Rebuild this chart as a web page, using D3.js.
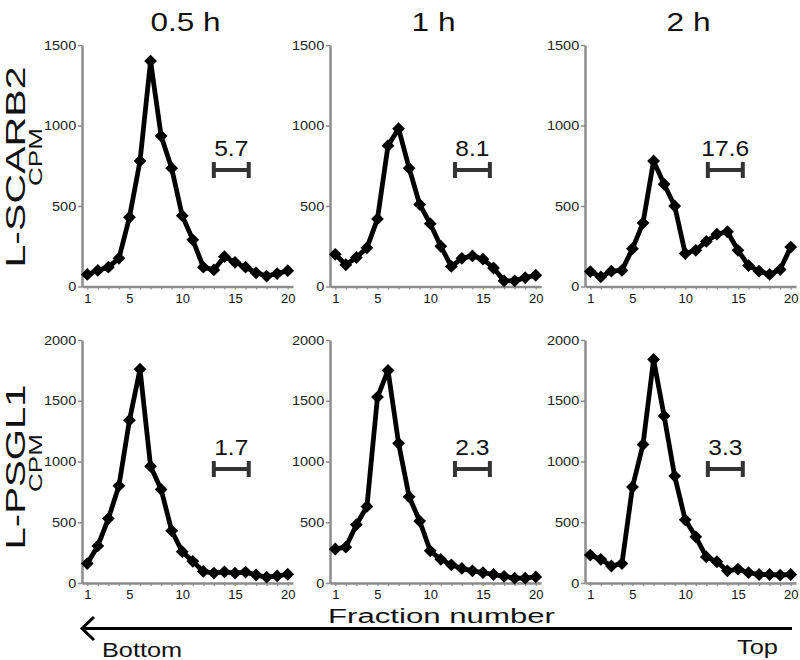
<!DOCTYPE html>
<html>
<head>
<meta charset="utf-8">
<script src="https://cdn.jsdelivr.net/npm/d3@7"></script>
<style>
  html, body { margin: 0; padding: 0; background: #fff; }
  svg { display: block; font-family: Arial, "Liberation Sans", Helvetica, sans-serif; }
  svg text { font-family: Arial, "Liberation Sans", Helvetica, sans-serif; }
</style>
</head>
<body>
<svg id="chart" width="800" height="660"></svg>
<script>
// ---------------- DATA ----------------
const fractions = [1,2,3,4,5,6,7,8,9,10,11,12,13,14,15,16,17,18,19,20];
const xTickLabels = [1, 5, 10, 15, 20];
const timepoints = ["0.5 h", "1 h", "2 h"];
const rowLabels = ["L-SCARB2", "L-PSGL1"];
const yUnitLabel = "CPM";
const xTitle = "Fraction number";
const arrowLeftLabel = "Bottom";
const arrowRightLabel = "Top";

const yTicksScarb2 = [0, 500, 1000, 1500];
const yTicksPsgl1 = [0, 500, 1000, 1500, 2000];

// L-SCARB2 CPM per fraction
const scarb2_05h = [75, 100, 120, 175, 430, 780, 1400, 935, 735, 440, 290, 120, 103, 185, 150, 120, 85, 65, 80, 98];
const scarb2_1h  = [200, 135, 180, 240, 420, 875, 980, 735, 510, 390, 250, 125, 175, 190, 170, 115, 35, 35, 55, 70];
const scarb2_2h  = [93, 60, 95, 100, 235, 395, 780, 635, 500, 205, 225, 280, 325, 340, 225, 130, 95, 75, 105, 245];
// L-PSGL1 CPM per fraction
const psgl1_05h  = [160, 305, 530, 800, 1340, 1760, 960, 770, 430, 258, 178, 95, 82, 92, 82, 90, 66, 48, 58, 72];
const psgl1_1h   = [280, 295, 480, 630, 1530, 1750, 1150, 710, 510, 265, 195, 150, 120, 100, 85, 70, 55, 40, 40, 50];
const psgl1_2h   = [230, 195, 140, 160, 790, 1140, 1840, 1375, 880, 520, 380, 215, 175, 100, 115, 85, 70, 70, 65, 70];

// annotation values (numbers above the scale bars)
const annotScarb2 = ["5.7", "8.1", "17.6"];
const annotPsgl1  = ["1.7", "2.3", "3.3"];

// ---------------- LAYOUT ----------------
const FONT = "Arial, 'Liberation Sans', Helvetica, sans-serif";
const svg = d3.select("#chart");
const panelLefts = [82, 330, 585];
const panelWidth = 211;
const rows = [
  { label: rowLabels[0], top: 45, bottom: 286.5, yMax: 1500, ticks: yTicksScarb2,
    series: [scarb2_05h, scarb2_1h, scarb2_2h], annot: annotScarb2,
    labelCenter: 167, labelLen: 201, cpmCenter: 157, barY: 170 },
  { label: rowLabels[1], top: 340, bottom: 583, yMax: 2000, ticks: yTicksPsgl1,
    series: [psgl1_05h, psgl1_1h, psgl1_2h], annot: annotPsgl1,
    labelCenter: 467, labelLen: 165, cpmCenter: 463, barY: 469 }
];
const barStart = [12.9, 12.25, 12.05];
const barLen = 3.5;
const axisColor = "#8c8c8c";

// Column titles
timepoints.forEach((t, i) => {
  svg.append("text")
    .attr("x", panelLefts[i] + panelWidth / 2 - 2)
    .attr("y", 31)
    .attr("text-anchor", "middle")
    .attr("font-family", FONT)
    .attr("font-size", 26)
    .attr("fill", "#111")
    .attr("textLength", t.length > 3 ? 70 : 44)
    .attr("lengthAdjust", "spacingAndGlyphs")
    .text(t);
});

const diamond = "M0,-6.4L6.4,0L0,6.4L-6.4,0Z";

rows.forEach((row, r) => {
  // Row label (rotated)
  svg.append("text")
    .attr("transform", `translate(24.5,${row.labelCenter}) rotate(-90)`)
    .attr("text-anchor", "middle")
    .attr("font-family", FONT)
    .attr("font-size", 28)
    .attr("fill", "#111")
    .attr("textLength", row.labelLen)
    .attr("lengthAdjust", "spacingAndGlyphs")
    .text(row.label);
  svg.append("text")
    .attr("transform", `translate(42,${row.cpmCenter}) rotate(-90)`)
    .attr("text-anchor", "middle")
    .attr("font-family", FONT)
    .attr("font-size", 17.5)
    .attr("fill", "#111")
    .attr("textLength", 58)
    .attr("lengthAdjust", "spacingAndGlyphs")
    .text(yUnitLabel);

  row.series.forEach((vals, c) => {
    const x0 = panelLefts[c];
    const x = d3.scaleLinear().domain([0.5, 20.5]).range([x0, x0 + panelWidth]);
    const y = d3.scaleLinear().domain([0, row.yMax]).range([row.bottom, row.top]);
    const g = svg.append("g");

    // Y axis
    const ya = g.append("g")
      .attr("transform", `translate(${x0},0)`)
      .call(d3.axisLeft(y).tickValues(row.ticks).tickSize(4).tickSizeOuter(0)
            .tickPadding(0).tickFormat(d => d));
    ya.attr("font-family", FONT);
    ya.select(".domain").attr("stroke", axisColor).attr("stroke-width", 2.5);
    ya.selectAll(".tick line").attr("stroke", axisColor).attr("stroke-width", 1.5);
    ya.selectAll(".tick text")
      .attr("font-size", 12.5)
      .attr("fill", "#222")
      .attr("transform", "scale(1.16,1)")
      .attr("x", -5);

    // X axis
    const xa = g.append("g")
      .attr("transform", `translate(0,${row.bottom})`)
      .call(d3.axisBottom(x).tickValues(fractions).tickSize(3).tickSizeOuter(0)
            .tickPadding(4).tickFormat(d => xTickLabels.includes(d) ? d : ""));
    xa.attr("font-family", FONT);
    xa.select(".domain").attr("stroke", axisColor).attr("stroke-width", 2.5);
    xa.selectAll(".tick line").attr("stroke", axisColor).attr("stroke-width", 1.3);
    xa.selectAll(".tick text")
      .attr("font-size", 13)
      .attr("fill", "#111");

    // Line
    const line = d3.line().x((d, i) => x(fractions[i])).y(d => y(d));
    g.append("path")
      .datum(vals)
      .attr("fill", "none")
      .attr("stroke", "#000")
      .attr("stroke-width", 4.8)
      .attr("stroke-linejoin", "round")
      .attr("d", line);

    // Diamonds
    g.selectAll(".pt")
      .data(vals)
      .join("path")
      .attr("class", "pt")
      .attr("d", diamond)
      .attr("fill", "#000")
      .attr("transform", (d, i) => `translate(${x(fractions[i])},${y(d)})`);

    // Scale bar + annotation
    const bx1 = x(barStart[c]), bx2 = x(barStart[c] + barLen);
    const by = row.barY;
    const bar = g.append("g").attr("stroke", "#333").attr("stroke-width", 4);
    bar.append("line").attr("x1", bx1).attr("x2", bx2).attr("y1", by).attr("y2", by);
    bar.append("line").attr("x1", bx1 + 1).attr("x2", bx1 + 1).attr("y1", by - 8).attr("y2", by + 8);
    bar.append("line").attr("x1", bx2 - 1).attr("x2", bx2 - 1).attr("y1", by - 8).attr("y2", by + 8);
    g.append("text")
      .attr("transform", `translate(${(bx1 + bx2) / 2},${by - 14}) scale(1.12,1)`)
      .attr("text-anchor", "middle")
      .attr("font-family", FONT)
      .attr("font-size", 22)
      .attr("fill", "#111")
      .text(row.annot[c]);
  });
});

// X title
svg.append("text")
  .attr("x", 328).attr("y", 623)
  .attr("font-family", FONT)
  .attr("font-size", 20)
  .attr("fill", "#111")
  .attr("textLength", 227)
  .attr("lengthAdjust", "spacingAndGlyphs")
  .text(xTitle);

// Arrow
svg.append("line")
  .attr("x1", 82).attr("x2", 792).attr("y1", 628.5).attr("y2", 628.5)
  .attr("stroke", "#000").attr("stroke-width", 3);
svg.append("path")
  .attr("d", "M94,617L82,628.5L94,640")
  .attr("fill", "none").attr("stroke", "#000").attr("stroke-width", 3);

svg.append("text")
  .attr("x", 102).attr("y", 657)
  .attr("font-family", FONT)
  .attr("font-size", 21).attr("fill", "#111")
  .attr("textLength", 80).attr("lengthAdjust", "spacingAndGlyphs")
  .text(arrowLeftLabel);
svg.append("text")
  .attr("x", 737).attr("y", 654)
  .attr("font-family", FONT)
  .attr("font-size", 21).attr("fill", "#111")
  .attr("textLength", 41).attr("lengthAdjust", "spacingAndGlyphs")
  .text(arrowRightLabel);
</script>
</body>
</html>
